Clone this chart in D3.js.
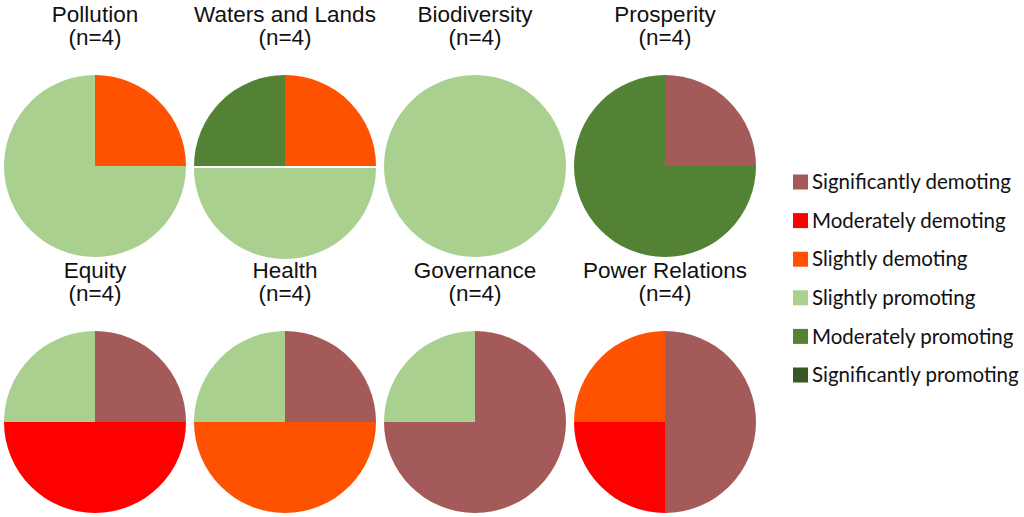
<!DOCTYPE html>
<html>
<head>
<meta charset="utf-8">
<script src="https://cdn.jsdelivr.net/npm/d3@7"></script>
<style>
  html, body { margin: 0; padding: 0; background: #fff; }
  svg { display: block; }
</style>
</head>
<body>
<svg id="chart" width="1024" height="517"></svg>
<script>
// ---- data ----
const categories = ["Significantly demoting", "Moderately demoting", "Slightly demoting",
                    "Slightly promoting", "Moderately promoting", "Significantly promoting"];
const charts = ["Pollution", "Waters and Lands", "Biodiversity", "Prosperity",
                "Equity", "Health", "Governance", "Power Relations"];
const sampleSizes = [4, 4, 4, 4, 4, 4, 4, 4];
// counts per chart in category order
const pollution      = [0, 0, 1, 3, 0, 0];
const watersLands    = [0, 0, 1, 2, 1, 0];
const biodiversity   = [0, 0, 0, 4, 0, 0];
const prosperity     = [1, 0, 0, 0, 3, 0];
const equity         = [1, 2, 0, 1, 0, 0];
const health         = [1, 0, 2, 1, 0, 0];
const governance     = [3, 0, 0, 1, 0, 0];
const powerRelations = [2, 1, 1, 0, 0, 0];
const seriesValues = [pollution, watersLands, biodiversity, prosperity,
                      equity, health, governance, powerRelations];
const colors = ["#a35a58", "#ff0000", "#ff5200", "#a9d08e", "#548235", "#385723"];

// ---- layout ----
const svg = d3.select("#chart");
const radius = 91;
const colX = d3.scalePoint().domain(d3.range(4)).range([95, 665]);
const rowY = d3.scalePoint().domain(d3.range(2)).range([166, 422]);
const color = d3.scaleOrdinal().domain(categories).range(colors);

const pie = d3.pie().sort(null).value(d => d.value);
const arc = d3.arc().innerRadius(0).outerRadius(radius);

charts.forEach((name, i) => {
  const cx = colX(i % 4), cy = rowY(Math.floor(i / 4));
  const g = svg.append("g").attr("transform", `translate(${cx},${cy})`);
  const data = categories.map((c, k) => ({ cat: c, value: seriesValues[i][k] }));
  g.selectAll("path")
    .data(pie(data).filter(d => d.data.value > 0))
    .join("path")
    .attr("d", arc)
    .attr("fill", d => color(d.data.cat))
    .attr("transform", d => (name === "Waters and Lands" && d.data.cat === "Slightly promoting") ? "translate(0,2)" : null);

  const t = svg.append("text")
    .attr("x", cx)
    .attr("text-anchor", "middle")
    .attr("font-family", "'Liberation Sans', Arial, sans-serif")
    .attr("font-size", 22.5)
    .attr("fill", "#111");
  t.append("tspan").attr("x", cx).attr("y", cy - 144).text(name);
  t.append("tspan").attr("x", cx).attr("y", cy - 121).text(`(n=${sampleSizes[i]})`);
});

// ---- legend ----
const legY = d3.scalePoint().domain(categories).range([182, 375]);
const leg = svg.append("g");
categories.forEach(c => {
  const y = legY(c);
  leg.append("rect")
    .attr("x", 793).attr("y", y - 7.5)
    .attr("width", 15).attr("height", 15)
    .attr("fill", color(c));
  leg.append("text")
    .attr("x", 812).attr("y", y)
    .attr("dy", "0.35em")
    .attr("font-family", "Lato, 'Open Sans', sans-serif")
    .attr("font-size", 20.5)
    .attr("fill", "#111")
    .text(c);
});
</script>
</body>
</html>
